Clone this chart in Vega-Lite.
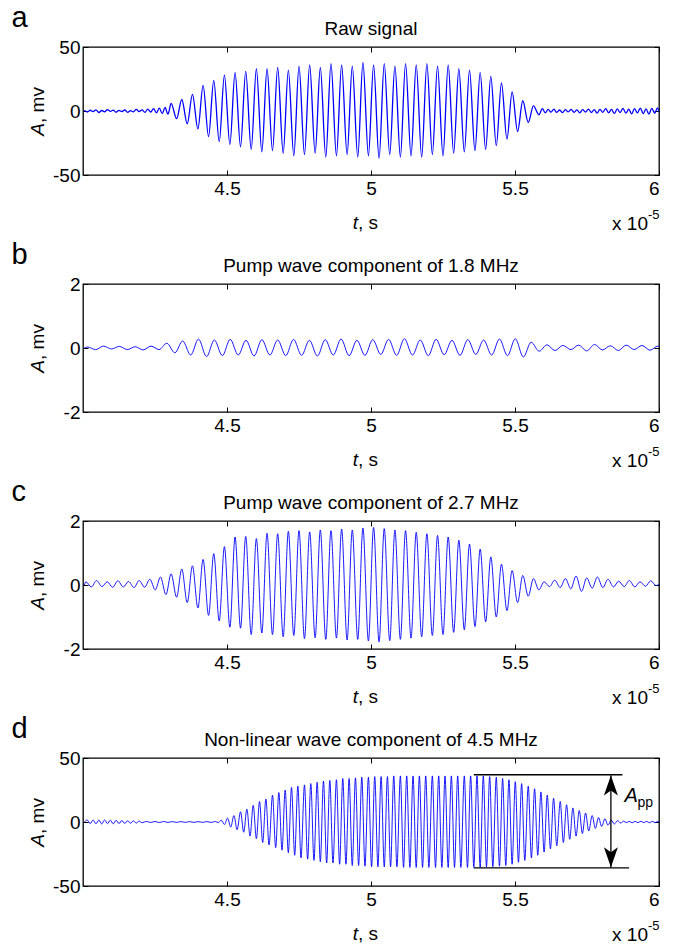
{
"$schema": "https://vega.github.io/schema/vega-lite/v6.json",
"background": "white",
"padding": {"left": 10, "top": 3, "right": 5, "bottom": 2},
"config": {
  "font": "Liberation Sans",
  "view": {"stroke": "black", "strokeWidth": 1.3},
  "axis": {"grid": false, "domain": false, "tickColor": "black", "tickSize": -5, "tickWidth": 1, "labelFontSize": 19, "labelColor": "black", "labelExpr": "'' + datum.value"},
  "axisX": {"labelPadding": 9},
  "axisY": {"labelPadding": 8},
  "text": {"color": "black"}
},
"datasets": {
"a": [{"t":4.005,"v":0.5},{"t":4.015,"v":-0.8},{"t":4.025,"v":0.6},{"t":4.035,"v":-0.5},{"t":4.045,"v":0.9},{"t":4.055,"v":-1.2},{"t":4.065,"v":0.4},{"t":4.075,"v":-0.6},{"t":4.085,"v":1.0},{"t":4.095,"v":-0.3},{"t":4.105,"v":0.7},{"t":4.115,"v":-1.0},{"t":4.125,"v":0.5},{"t":4.135,"v":-0.4},{"t":4.145,"v":0.8},{"t":4.155,"v":-1.1},{"t":4.165,"v":0.3},{"t":4.175,"v":-0.7},{"t":4.185,"v":1.2},{"t":4.195,"v":-0.5},{"t":4.205,"v":0.9},{"t":4.215,"v":-1.0},{"t":4.225,"v":1.4},{"t":4.235,"v":-0.8},{"t":4.245,"v":1.8},{"t":4.255,"v":-1.5},{"t":4.265,"v":2.2},{"t":4.275,"v":-2.0},{"t":4.285,"v":2.8},{"t":4.295,"v":-2.5},
{"t":4.306,"v":6},{"t":4.325,"v":-6},{"t":4.343,"v":9},{"t":4.362,"v":-10},{"t":4.380,"v":13},{"t":4.399,"v":-14},{"t":4.417,"v":20},{"t":4.436,"v":-20},{"t":4.454,"v":24},{"t":4.473,"v":-24},{"t":4.491,"v":28},{"t":4.510,"v":-26},{"t":4.528,"v":30},{"t":4.547,"v":-28},{"t":4.565,"v":31},{"t":4.584,"v":-30},{"t":4.602,"v":33},{"t":4.621,"v":-32},{"t":4.639,"v":33},{"t":4.658,"v":-31},{"t":4.676,"v":34},{"t":4.695,"v":-33},{"t":4.713,"v":32},{"t":4.732,"v":-35},{"t":4.750,"v":35},{"t":4.769,"v":-34},{"t":4.787,"v":36},{"t":4.806,"v":-33},{"t":4.824,"v":34},{"t":4.843,"v":-36},{"t":4.861,"v":37},{"t":4.880,"v":-35},{"t":4.898,"v":36},{"t":4.917,"v":-34},{"t":4.935,"v":35},{"t":4.954,"v":-36},{"t":4.972,"v":38},{"t":4.991,"v":-35},{"t":5.009,"v":36},{"t":5.028,"v":-37},{"t":5.046,"v":37},{"t":5.065,"v":-34},{"t":5.083,"v":35},{"t":5.102,"v":-36},{"t":5.120,"v":37},{"t":5.139,"v":-35},{"t":5.157,"v":36},{"t":5.176,"v":-36},{"t":5.194,"v":37},{"t":5.213,"v":-34},{"t":5.231,"v":35},{"t":5.250,"v":-35},{"t":5.268,"v":36},{"t":5.287,"v":-33},{"t":5.305,"v":33},{"t":5.324,"v":-32},{"t":5.342,"v":32},{"t":5.361,"v":-31},{"t":5.379,"v":30},{"t":5.398,"v":-30},{"t":5.416,"v":27},{"t":5.435,"v":-27},{"t":5.453,"v":22},{"t":5.472,"v":-22},{"t":5.490,"v":15},{"t":5.509,"v":-16},{"t":5.527,"v":8},{"t":5.546,"v":-9},{"t":5.564,"v":4},{"t":5.583,"v":-3},
{"t":5.595,"v":1.8},{"t":5.605,"v":-1.5},{"t":5.615,"v":1.2},{"t":5.625,"v":-0.9},{"t":5.635,"v":1.4},{"t":5.645,"v":-1.1},{"t":5.655,"v":0.8},{"t":5.665,"v":-1.3},{"t":5.675,"v":1.0},{"t":5.685,"v":-0.7},{"t":5.695,"v":1.2},{"t":5.705,"v":-1.0},{"t":5.715,"v":0.9},{"t":5.725,"v":-1.4},{"t":5.735,"v":1.1},{"t":5.745,"v":-0.8},{"t":5.755,"v":1.5},{"t":5.765,"v":-1.2},{"t":5.775,"v":1.0},{"t":5.785,"v":-1.6},{"t":5.795,"v":1.3},{"t":5.805,"v":-1.0},{"t":5.815,"v":1.8},{"t":5.825,"v":-1.4},{"t":5.835,"v":1.2},{"t":5.845,"v":-1.9},{"t":5.855,"v":1.6},{"t":5.865,"v":-1.2},{"t":5.875,"v":2.0},{"t":5.885,"v":-1.7},{"t":5.895,"v":1.4},{"t":5.905,"v":-2.2},{"t":5.915,"v":1.9},{"t":5.925,"v":-1.5},{"t":5.935,"v":2.3},{"t":5.945,"v":-2.0},{"t":5.955,"v":1.7},{"t":5.965,"v":-2.4},{"t":5.975,"v":2.1},{"t":5.985,"v":-1.8},{"t":5.995,"v":2.5},{"t":6.0,"v":-0.5}],
"b": [{"t":4.005,"v":0.0},{"t":4.016,"v":0.03},{"t":4.044,"v":-0.05},{"t":4.071,"v":0.06},{"t":4.099,"v":-0.03},{"t":4.126,"v":0.05},{"t":4.154,"v":-0.05},{"t":4.181,"v":0.04},{"t":4.209,"v":-0.06},{"t":4.236,"v":0.06},{"t":4.264,"v":-0.05},{"t":4.291,"v":0.15},{"t":4.319,"v":-0.15},{"t":4.346,"v":0.22},{"t":4.374,"v":-0.22},{"t":4.401,"v":0.28},{"t":4.429,"v":-0.27},{"t":4.456,"v":0.25},{"t":4.484,"v":-0.24},{"t":4.511,"v":0.27},{"t":4.539,"v":-0.22},{"t":4.566,"v":0.24},{"t":4.594,"v":-0.25},{"t":4.621,"v":0.26},{"t":4.649,"v":-0.22},{"t":4.676,"v":0.25},{"t":4.704,"v":-0.24},{"t":4.731,"v":0.27},{"t":4.759,"v":-0.23},{"t":4.786,"v":0.24},{"t":4.814,"v":-0.25},{"t":4.841,"v":0.26},{"t":4.869,"v":-0.22},{"t":4.896,"v":0.28},{"t":4.924,"v":-0.24},{"t":4.951,"v":0.24},{"t":4.979,"v":-0.23},{"t":5.006,"v":0.26},{"t":5.034,"v":-0.20},{"t":5.061,"v":0.27},{"t":5.089,"v":-0.23},{"t":5.116,"v":0.29},{"t":5.144,"v":-0.22},{"t":5.171,"v":0.25},{"t":5.199,"v":-0.24},{"t":5.226,"v":0.27},{"t":5.254,"v":-0.21},{"t":5.281,"v":0.24},{"t":5.309,"v":-0.23},{"t":5.336,"v":0.26},{"t":5.364,"v":-0.20},{"t":5.391,"v":0.25},{"t":5.419,"v":-0.22},{"t":5.446,"v":0.28},{"t":5.474,"v":-0.24},{"t":5.501,"v":0.29},{"t":5.529,"v":-0.28},{"t":5.556,"v":0.18},{"t":5.584,"v":-0.10},{"t":5.611,"v":0.10},{"t":5.639,"v":-0.08},{"t":5.666,"v":0.08},{"t":5.694,"v":-0.05},{"t":5.721,"v":0.09},{"t":5.749,"v":-0.09},{"t":5.776,"v":0.11},{"t":5.804,"v":-0.06},{"t":5.831,"v":0.07},{"t":5.859,"v":-0.08},{"t":5.886,"v":0.09},{"t":5.914,"v":-0.05},{"t":5.941,"v":0.08},{"t":5.969,"v":-0.07},{"t":5.996,"v":0.06},{"t":6.0,"v":0.05}],
"c": [{"t":4.005,"v":0.0},{"t":4.010,"v":0.10},{"t":4.029,"v":-0.06},{"t":4.047,"v":0.14},{"t":4.066,"v":-0.05},{"t":4.084,"v":0.10},{"t":4.103,"v":-0.07},{"t":4.121,"v":0.13},{"t":4.140,"v":-0.06},{"t":4.158,"v":0.11},{"t":4.177,"v":-0.08},{"t":4.195,"v":0.14},{"t":4.214,"v":-0.07},{"t":4.232,"v":0.18},{"t":4.251,"v":-0.15},{"t":4.269,"v":0.25},{"t":4.288,"v":-0.30},{"t":4.306,"v":0.35},{"t":4.325,"v":-0.38},{"t":4.343,"v":0.50},{"t":4.362,"v":-0.55},{"t":4.380,"v":0.60},{"t":4.399,"v":-0.72},{"t":4.417,"v":0.80},{"t":4.436,"v":-0.95},{"t":4.454,"v":0.98},{"t":4.473,"v":-1.12},{"t":4.491,"v":1.20},{"t":4.510,"v":-1.32},{"t":4.528,"v":1.50},{"t":4.547,"v":-1.35},{"t":4.565,"v":1.52},{"t":4.584,"v":-1.55},{"t":4.602,"v":1.45},{"t":4.621,"v":-1.50},{"t":4.639,"v":1.62},{"t":4.658,"v":-1.55},{"t":4.676,"v":1.60},{"t":4.695,"v":-1.62},{"t":4.713,"v":1.68},{"t":4.732,"v":-1.58},{"t":4.750,"v":1.70},{"t":4.769,"v":-1.68},{"t":4.787,"v":1.66},{"t":4.806,"v":-1.65},{"t":4.824,"v":1.72},{"t":4.843,"v":-1.70},{"t":4.861,"v":1.70},{"t":4.880,"v":-1.66},{"t":4.898,"v":1.75},{"t":4.917,"v":-1.72},{"t":4.935,"v":1.72},{"t":4.954,"v":-1.70},{"t":4.972,"v":1.78},{"t":4.991,"v":-1.75},{"t":5.009,"v":1.80},{"t":5.028,"v":-1.78},{"t":5.046,"v":1.76},{"t":5.065,"v":-1.74},{"t":5.083,"v":1.72},{"t":5.102,"v":-1.70},{"t":5.120,"v":1.70},{"t":5.139,"v":-1.66},{"t":5.157,"v":1.65},{"t":5.176,"v":-1.62},{"t":5.194,"v":1.60},{"t":5.213,"v":-1.58},{"t":5.231,"v":1.55},{"t":5.250,"v":-1.55},{"t":5.268,"v":1.50},{"t":5.287,"v":-1.48},{"t":5.305,"v":1.40},{"t":5.324,"v":-1.40},{"t":5.342,"v":1.28},{"t":5.361,"v":-1.30},{"t":5.379,"v":1.12},{"t":5.398,"v":-1.15},{"t":5.416,"v":0.88},{"t":5.435,"v":-1.00},{"t":5.453,"v":0.65},{"t":5.472,"v":-0.80},{"t":5.490,"v":0.45},{"t":5.509,"v":-0.55},{"t":5.527,"v":0.30},{"t":5.546,"v":-0.35},{"t":5.564,"v":0.20},{"t":5.583,"v":-0.15},{"t":5.601,"v":0.10},{"t":5.620,"v":-0.05},{"t":5.638,"v":0.15},{"t":5.657,"v":-0.08},{"t":5.675,"v":0.20},{"t":5.694,"v":-0.12},{"t":5.712,"v":0.28},{"t":5.731,"v":-0.20},{"t":5.749,"v":0.22},{"t":5.768,"v":-0.10},{"t":5.786,"v":0.25},{"t":5.805,"v":-0.08},{"t":5.823,"v":0.18},{"t":5.842,"v":-0.06},{"t":5.860,"v":0.12},{"t":5.879,"v":-0.05},{"t":5.897,"v":0.14},{"t":5.916,"v":-0.06},{"t":5.934,"v":0.10},{"t":5.953,"v":-0.04},{"t":5.971,"v":0.13},{"t":5.990,"v":-0.02},{"t":6.0,"v":0.02}],
"d": [{"t":4.005,"v":0},{"t":4.015,"v":1.5},{"t":4.025,"v":-1.3},{"t":4.035,"v":1.6},{"t":4.045,"v":-1.4},{"t":4.055,"v":1.5},{"t":4.065,"v":-1.5},{"t":4.075,"v":1.6},{"t":4.085,"v":-1.3},{"t":4.095,"v":1.4},{"t":4.105,"v":-1.4},{"t":4.115,"v":1.3},{"t":4.125,"v":-1.2},{"t":4.135,"v":1.2},{"t":4.145,"v":-1.1},{"t":4.155,"v":1.0},{"t":4.165,"v":-1.0},{"t":4.175,"v":0.9},{"t":4.185,"v":-0.8},{"t":4.195,"v":0.7},{"t":4.205,"v":-0.6},{"t":4.22,"v":0.5},{"t":4.235,"v":-0.4},{"t":4.25,"v":0.4},{"t":4.265,"v":-0.4},{"t":4.28,"v":0.4},{"t":4.295,"v":-0.3},{"t":4.31,"v":0.3},{"t":4.325,"v":-0.3},{"t":4.34,"v":0.3},{"t":4.355,"v":-0.3},{"t":4.37,"v":0.3},{"t":4.385,"v":-0.3},{"t":4.40,"v":0.3},{"t":4.415,"v":-0.3},{"t":4.43,"v":0.3},{"t":4.445,"v":-0.3},{"t":4.46,"v":0.4},{"t":4.47,"v":-0.5},
{"t":4.480,"v":1.5},{"t":4.491,"v":-2},{"t":4.502,"v":3},{"t":4.513,"v":-4},{"t":4.524,"v":5},{"t":4.535,"v":-6},{"t":4.547,"v":8},{"t":4.558,"v":-8},{"t":4.569,"v":10},{"t":4.580,"v":-11},{"t":4.591,"v":13},{"t":4.602,"v":-13},{"t":4.613,"v":16},{"t":4.624,"v":-16},{"t":4.635,"v":18},{"t":4.646,"v":-18},{"t":4.658,"v":21},{"t":4.669,"v":-20},{"t":4.680,"v":23},{"t":4.691,"v":-22},{"t":4.702,"v":25},{"t":4.713,"v":-24},{"t":4.724,"v":27},{"t":4.735,"v":-26},{"t":4.746,"v":28},{"t":4.757,"v":-28},{"t":4.769,"v":29},{"t":4.780,"v":-29},{"t":4.791,"v":30},{"t":4.802,"v":-30},{"t":4.813,"v":31},{"t":4.824,"v":-31},{"t":4.835,"v":32},{"t":4.846,"v":-32},{"t":4.857,"v":32.5},{"t":4.868,"v":-32},{"t":4.880,"v":33},{"t":4.891,"v":-33},{"t":4.902,"v":34},{"t":4.913,"v":-33},{"t":4.924,"v":34},{"t":4.935,"v":-34},{"t":4.946,"v":34.5},{"t":4.957,"v":-34},{"t":4.968,"v":35},{"t":4.979,"v":-34.5},{"t":4.991,"v":35},{"t":5.002,"v":-35},{"t":5.013,"v":35.5},{"t":5.024,"v":-35},{"t":5.035,"v":35.5},{"t":5.046,"v":-35},{"t":5.057,"v":35.5},{"t":5.068,"v":-35},{"t":5.079,"v":36},{"t":5.090,"v":-35},{"t":5.102,"v":36},{"t":5.113,"v":-35.5},{"t":5.124,"v":36},{"t":5.135,"v":-35.5},{"t":5.146,"v":36},{"t":5.157,"v":-35.5},{"t":5.168,"v":36},{"t":5.179,"v":-35.5},{"t":5.190,"v":36},{"t":5.201,"v":-35.5},{"t":5.213,"v":36},{"t":5.224,"v":-35.5},{"t":5.235,"v":36},{"t":5.246,"v":-35.5},{"t":5.257,"v":36},{"t":5.268,"v":-35.5},{"t":5.279,"v":36},{"t":5.290,"v":-35.5},{"t":5.301,"v":36},{"t":5.312,"v":-35.5},{"t":5.324,"v":36},{"t":5.335,"v":-35.5},{"t":5.346,"v":36},{"t":5.357,"v":-35.5},{"t":5.368,"v":36},{"t":5.379,"v":-35.5},{"t":5.390,"v":36},{"t":5.401,"v":-35},{"t":5.412,"v":35.5},{"t":5.423,"v":-35},{"t":5.435,"v":35},{"t":5.446,"v":-34.5},{"t":5.457,"v":34},{"t":5.468,"v":-34},{"t":5.479,"v":33},{"t":5.490,"v":-33},{"t":5.501,"v":31.5},{"t":5.512,"v":-31.5},{"t":5.523,"v":30},{"t":5.534,"v":-30},{"t":5.546,"v":28},{"t":5.557,"v":-28},{"t":5.568,"v":26},{"t":5.579,"v":-26},{"t":5.590,"v":23.5},{"t":5.601,"v":-23.5},{"t":5.612,"v":21},{"t":5.623,"v":-21},{"t":5.634,"v":18.5},{"t":5.645,"v":-18.5},{"t":5.657,"v":16},{"t":5.668,"v":-16},{"t":5.679,"v":13.5},{"t":5.690,"v":-13.5},{"t":5.701,"v":11},{"t":5.712,"v":-11},{"t":5.723,"v":9},{"t":5.734,"v":-9},{"t":5.745,"v":7},{"t":5.756,"v":-7},{"t":5.768,"v":5},{"t":5.779,"v":-5},{"t":5.790,"v":3.5},{"t":5.801,"v":-3.5},{"t":5.812,"v":2.5},{"t":5.823,"v":-2.5},{"t":5.834,"v":1.5},{"t":5.845,"v":-1.5},{"t":5.856,"v":1},{"t":5.867,"v":-0.8},
{"t":5.877,"v":0.6},{"t":5.887,"v":-0.5},{"t":5.897,"v":0.5},{"t":5.907,"v":-0.6},{"t":5.917,"v":0.5},{"t":5.927,"v":-0.5},{"t":5.937,"v":0.6},{"t":5.947,"v":-0.5},{"t":5.957,"v":0.5},{"t":5.967,"v":-0.6},{"t":5.977,"v":0.5},{"t":5.987,"v":-0.5},{"t":5.997,"v":0.5},{"t":6.0,"v":0.2}]
},
"spacing": 109,
"bounds": "flush",
"vconcat": [
{
 "width": 576, "height": 128,
 "resolve": {"axis": {"x": "independent", "y": "independent"}},
 "layer": [
  {"data": {"name": "a"}, "mark": {"type": "line", "color": "#0000ff", "strokeWidth": 1.3, "interpolate": "monotone", "clip": true},
   "encoding": {
    "x": {"field": "t", "type": "quantitative", "scale": {"domain": [4.005, 6]}, "axis": {"orient": "bottom", "values": [4.5, 5, 5.5, 6], "title": null}},
    "y": {"field": "v", "type": "quantitative", "scale": {"domain": [-50, 50]}, "axis": {"orient": "left", "values": [-50, 0, 50], "title": null}}}},
  {"data": {"values": [{}]}, "mark": {"type": "text", "text": "a", "fontSize": 29, "align": "left", "baseline": "alphabetic", "dx": -73, "dy": -20},
   "encoding": {
    "x": {"datum": 4.005, "type": "quantitative", "axis": {"orient": "top", "values": [4.5, 5, 5.5, 6], "labels": false, "title": null}},
    "y": {"datum": 50, "type": "quantitative", "axis": {"orient": "right", "values": [-50, 0, 50], "labels": false, "title": null}}}},
  {"data": {"values": [{}]}, "mark": {"type": "text", "text": "Raw signal", "fontSize": 19, "align": "center", "baseline": "middle", "dy": -18},
   "encoding": {"x": {"datum": 5.0, "axis": null}, "y": {"datum": 50, "axis": null}}},
  {"data": {"values": [{}]}, "mark": {"type": "text", "text": "A", "fontStyle": "italic", "fontSize": 19, "angle": 270, "align": "right", "baseline": "middle", "dx": -12, "dy": -46},
   "encoding": {"x": {"datum": 4.005, "axis": null}, "y": {"datum": 0, "axis": null}}},
  {"data": {"values": [{}]}, "mark": {"type": "text", "text": ", mv", "fontSize": 19, "angle": 270, "align": "left", "baseline": "middle", "dx": -12, "dy": -46},
   "encoding": {"x": {"datum": 4.005, "axis": null}, "y": {"datum": 0, "axis": null}}},
  {"data": {"values": [{}]}, "mark": {"type": "text", "text": "t", "fontStyle": "italic", "fontSize": 19, "align": "right", "baseline": "middle", "dx": -13, "dy": 48},
   "encoding": {"x": {"datum": 5.0, "axis": null}, "y": {"datum": -50, "axis": null}}},
  {"data": {"values": [{}]}, "mark": {"type": "text", "text": ", s", "fontSize": 19, "align": "left", "baseline": "middle", "dx": -13, "dy": 48},
   "encoding": {"x": {"datum": 5.0, "axis": null}, "y": {"datum": -50, "axis": null}}},
  {"data": {"values": [{}]}, "mark": {"type": "text", "text": "x 10", "fontSize": 19, "align": "right", "baseline": "middle", "dx": -11, "dy": 49},
   "encoding": {"x": {"datum": 6, "axis": null}, "y": {"datum": -50, "axis": null}}},
  {"data": {"values": [{}]}, "mark": {"type": "text", "text": "-5", "fontSize": 13, "align": "left", "baseline": "middle", "dx": -11, "dy": 40},
   "encoding": {"x": {"datum": 6, "axis": null}, "y": {"datum": -50, "axis": null}}}
 ]
},
{
 "width": 576, "height": 128,
 "resolve": {"axis": {"x": "independent", "y": "independent"}},
 "layer": [
  {"data": {"name": "b"}, "mark": {"type": "line", "color": "#0000ff", "strokeWidth": 0.9, "interpolate": "monotone", "clip": true},
   "encoding": {
    "x": {"field": "t", "type": "quantitative", "scale": {"domain": [4.005, 6]}, "axis": {"orient": "bottom", "values": [4.5, 5, 5.5, 6], "title": null}},
    "y": {"field": "v", "type": "quantitative", "scale": {"domain": [-2, 2]}, "axis": {"orient": "left", "values": [-2, 0, 2], "title": null}}}},
  {"data": {"values": [{}]}, "mark": {"type": "text", "text": "b", "fontSize": 29, "align": "left", "baseline": "alphabetic", "dx": -73, "dy": -20},
   "encoding": {
    "x": {"datum": 4.005, "type": "quantitative", "axis": {"orient": "top", "values": [4.5, 5, 5.5, 6], "labels": false, "title": null}},
    "y": {"datum": 2, "type": "quantitative", "axis": {"orient": "right", "values": [-2, 0, 2], "labels": false, "title": null}}}},
  {"data": {"values": [{}]}, "mark": {"type": "text", "text": "Pump wave component of 1.8 MHz", "fontSize": 19, "align": "center", "baseline": "middle", "dy": -18},
   "encoding": {"x": {"datum": 5.0, "axis": null}, "y": {"datum": 2, "axis": null}}},
  {"data": {"values": [{}]}, "mark": {"type": "text", "text": "A", "fontStyle": "italic", "fontSize": 19, "angle": 270, "align": "right", "baseline": "middle", "dx": -12, "dy": -46},
   "encoding": {"x": {"datum": 4.005, "axis": null}, "y": {"datum": 0, "axis": null}}},
  {"data": {"values": [{}]}, "mark": {"type": "text", "text": ", mv", "fontSize": 19, "angle": 270, "align": "left", "baseline": "middle", "dx": -12, "dy": -46},
   "encoding": {"x": {"datum": 4.005, "axis": null}, "y": {"datum": 0, "axis": null}}},
  {"data": {"values": [{}]}, "mark": {"type": "text", "text": "t", "fontStyle": "italic", "fontSize": 19, "align": "right", "baseline": "middle", "dx": -13, "dy": 48},
   "encoding": {"x": {"datum": 5.0, "axis": null}, "y": {"datum": -2, "axis": null}}},
  {"data": {"values": [{}]}, "mark": {"type": "text", "text": ", s", "fontSize": 19, "align": "left", "baseline": "middle", "dx": -13, "dy": 48},
   "encoding": {"x": {"datum": 5.0, "axis": null}, "y": {"datum": -2, "axis": null}}},
  {"data": {"values": [{}]}, "mark": {"type": "text", "text": "x 10", "fontSize": 19, "align": "right", "baseline": "middle", "dx": -11, "dy": 49},
   "encoding": {"x": {"datum": 6, "axis": null}, "y": {"datum": -2, "axis": null}}},
  {"data": {"values": [{}]}, "mark": {"type": "text", "text": "-5", "fontSize": 13, "align": "left", "baseline": "middle", "dx": -11, "dy": 40},
   "encoding": {"x": {"datum": 6, "axis": null}, "y": {"datum": -2, "axis": null}}}
 ]
},
{
 "width": 576, "height": 128,
 "resolve": {"axis": {"x": "independent", "y": "independent"}},
 "layer": [
  {"data": {"name": "c"}, "mark": {"type": "line", "color": "#0000ff", "strokeWidth": 0.9, "interpolate": "monotone", "clip": true},
   "encoding": {
    "x": {"field": "t", "type": "quantitative", "scale": {"domain": [4.005, 6]}, "axis": {"orient": "bottom", "values": [4.5, 5, 5.5, 6], "title": null}},
    "y": {"field": "v", "type": "quantitative", "scale": {"domain": [-2, 2]}, "axis": {"orient": "left", "values": [-2, 0, 2], "title": null}}}},
  {"data": {"values": [{}]}, "mark": {"type": "text", "text": "c", "fontSize": 29, "align": "left", "baseline": "alphabetic", "dx": -73, "dy": -20},
   "encoding": {
    "x": {"datum": 4.005, "type": "quantitative", "axis": {"orient": "top", "values": [4.5, 5, 5.5, 6], "labels": false, "title": null}},
    "y": {"datum": 2, "type": "quantitative", "axis": {"orient": "right", "values": [-2, 0, 2], "labels": false, "title": null}}}},
  {"data": {"values": [{}]}, "mark": {"type": "text", "text": "Pump wave component of 2.7 MHz", "fontSize": 19, "align": "center", "baseline": "middle", "dy": -18},
   "encoding": {"x": {"datum": 5.0, "axis": null}, "y": {"datum": 2, "axis": null}}},
  {"data": {"values": [{}]}, "mark": {"type": "text", "text": "A", "fontStyle": "italic", "fontSize": 19, "angle": 270, "align": "right", "baseline": "middle", "dx": -12, "dy": -46},
   "encoding": {"x": {"datum": 4.005, "axis": null}, "y": {"datum": 0, "axis": null}}},
  {"data": {"values": [{}]}, "mark": {"type": "text", "text": ", mv", "fontSize": 19, "angle": 270, "align": "left", "baseline": "middle", "dx": -12, "dy": -46},
   "encoding": {"x": {"datum": 4.005, "axis": null}, "y": {"datum": 0, "axis": null}}},
  {"data": {"values": [{}]}, "mark": {"type": "text", "text": "t", "fontStyle": "italic", "fontSize": 19, "align": "right", "baseline": "middle", "dx": -13, "dy": 48},
   "encoding": {"x": {"datum": 5.0, "axis": null}, "y": {"datum": -2, "axis": null}}},
  {"data": {"values": [{}]}, "mark": {"type": "text", "text": ", s", "fontSize": 19, "align": "left", "baseline": "middle", "dx": -13, "dy": 48},
   "encoding": {"x": {"datum": 5.0, "axis": null}, "y": {"datum": -2, "axis": null}}},
  {"data": {"values": [{}]}, "mark": {"type": "text", "text": "x 10", "fontSize": 19, "align": "right", "baseline": "middle", "dx": -11, "dy": 49},
   "encoding": {"x": {"datum": 6, "axis": null}, "y": {"datum": -2, "axis": null}}},
  {"data": {"values": [{}]}, "mark": {"type": "text", "text": "-5", "fontSize": 13, "align": "left", "baseline": "middle", "dx": -11, "dy": 40},
   "encoding": {"x": {"datum": 6, "axis": null}, "y": {"datum": -2, "axis": null}}}
 ]
},
{
 "width": 576, "height": 128,
 "resolve": {"axis": {"x": "independent", "y": "independent"}},
 "layer": [
  {"data": {"name": "d"}, "mark": {"type": "line", "color": "#0000ff", "strokeWidth": 0.9, "interpolate": "monotone", "clip": true},
   "encoding": {
    "x": {"field": "t", "type": "quantitative", "scale": {"domain": [4.005, 6]}, "axis": {"orient": "bottom", "values": [4.5, 5, 5.5, 6], "title": null}},
    "y": {"field": "v", "type": "quantitative", "scale": {"domain": [-50, 50]}, "axis": {"orient": "left", "values": [-50, 0, 50], "title": null}}}},
  {"data": {"values": [{}]}, "mark": {"type": "text", "text": "d", "fontSize": 29, "align": "left", "baseline": "alphabetic", "dx": -73, "dy": -20},
   "encoding": {
    "x": {"datum": 4.005, "type": "quantitative", "axis": {"orient": "top", "values": [4.5, 5, 5.5, 6], "labels": false, "title": null}},
    "y": {"datum": 50, "type": "quantitative", "axis": {"orient": "right", "values": [-50, 0, 50], "labels": false, "title": null}}}},
  {"data": {"values": [{}]}, "mark": {"type": "text", "text": "Non-linear wave component of 4.5 MHz", "fontSize": 19, "align": "center", "baseline": "middle", "dy": -18},
   "encoding": {"x": {"datum": 5.0, "axis": null}, "y": {"datum": 50, "axis": null}}},
  {"data": {"values": [{}]}, "mark": {"type": "text", "text": "A", "fontStyle": "italic", "fontSize": 19, "angle": 270, "align": "right", "baseline": "middle", "dx": -12, "dy": -46},
   "encoding": {"x": {"datum": 4.005, "axis": null}, "y": {"datum": 0, "axis": null}}},
  {"data": {"values": [{}]}, "mark": {"type": "text", "text": ", mv", "fontSize": 19, "angle": 270, "align": "left", "baseline": "middle", "dx": -12, "dy": -46},
   "encoding": {"x": {"datum": 4.005, "axis": null}, "y": {"datum": 0, "axis": null}}},
  {"data": {"values": [{}]}, "mark": {"type": "text", "text": "t", "fontStyle": "italic", "fontSize": 19, "align": "right", "baseline": "middle", "dx": -13, "dy": 48},
   "encoding": {"x": {"datum": 5.0, "axis": null}, "y": {"datum": -50, "axis": null}}},
  {"data": {"values": [{}]}, "mark": {"type": "text", "text": ", s", "fontSize": 19, "align": "left", "baseline": "middle", "dx": -13, "dy": 48},
   "encoding": {"x": {"datum": 5.0, "axis": null}, "y": {"datum": -50, "axis": null}}},
  {"data": {"values": [{}]}, "mark": {"type": "text", "text": "x 10", "fontSize": 19, "align": "right", "baseline": "middle", "dx": -11, "dy": 49},
   "encoding": {"x": {"datum": 6, "axis": null}, "y": {"datum": -50, "axis": null}}},
  {"data": {"values": [{}]}, "mark": {"type": "text", "text": "-5", "fontSize": 13, "align": "left", "baseline": "middle", "dx": -11, "dy": 40},
   "encoding": {"x": {"datum": 6, "axis": null}, "y": {"datum": -50, "axis": null}}},
  {"data": {"values": [{}]}, "mark": {"type": "rule", "color": "black", "strokeWidth": 1.3},
   "encoding": {"x": {"datum": 5.357, "axis": null}, "x2": {"datum": 5.873}, "y": {"datum": 36.9, "axis": null}}},
  {"data": {"values": [{}]}, "mark": {"type": "rule", "color": "black", "strokeWidth": 1.3},
   "encoding": {"x": {"datum": 5.357, "axis": null}, "x2": {"datum": 5.896}, "y": {"datum": -35.8, "axis": null}}},
  {"data": {"values": [{}]}, "mark": {"type": "rule", "color": "black", "strokeWidth": 1.3},
   "encoding": {"x": {"datum": 5.833, "axis": null}, "y": {"datum": 36.5, "axis": null}, "y2": {"datum": -35.5}}},
  {"data": {"values": [{}]}, "mark": {"type": "point", "shape": "M0,0L0.7,2L0,1.5L-0.7,2Z", "size": 400, "filled": true, "color": "black", "opacity": 1},
   "encoding": {"x": {"datum": 5.833, "axis": null}, "y": {"datum": 36.3, "axis": null}}},
  {"data": {"values": [{}]}, "mark": {"type": "point", "shape": "M0,0L0.7,-2L0,-1.5L-0.7,-2Z", "size": 400, "filled": true, "color": "black", "opacity": 1},
   "encoding": {"x": {"datum": 5.833, "axis": null}, "y": {"datum": -35.3, "axis": null}}},
  {"data": {"values": [{}]}, "mark": {"type": "text", "text": "A", "fontStyle": "italic", "fontSize": 20, "align": "left", "baseline": "alphabetic"},
   "encoding": {"x": {"datum": 5.88, "axis": null}, "y": {"datum": 16, "axis": null}}},
  {"data": {"values": [{}]}, "mark": {"type": "text", "text": "pp", "fontSize": 14, "align": "left", "baseline": "alphabetic", "dx": 13, "dy": 5},
   "encoding": {"x": {"datum": 5.88, "axis": null}, "y": {"datum": 16, "axis": null}}}
 ]
}
]
}
